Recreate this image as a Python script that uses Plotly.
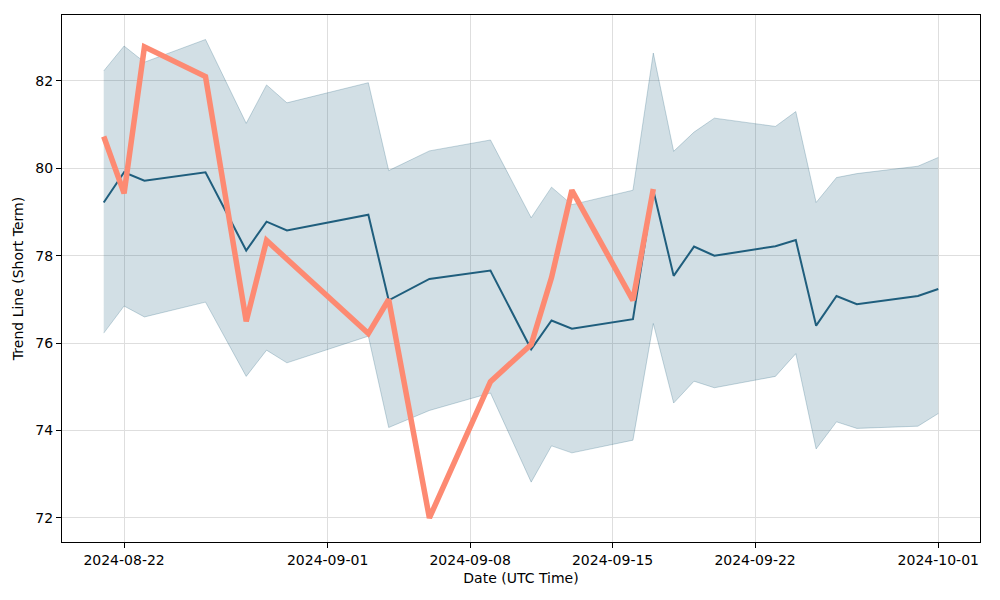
import plotly.graph_objects as go

# ---- data ----
trend_dates = ["2024-08-21", "2024-08-22", "2024-08-23", "2024-08-26", "2024-08-28",
               "2024-08-29", "2024-08-30", "2024-09-03", "2024-09-04", "2024-09-06",
               "2024-09-09", "2024-09-11", "2024-09-12", "2024-09-13", "2024-09-16",
               "2024-09-17", "2024-09-18", "2024-09-19", "2024-09-20", "2024-09-23",
               "2024-09-24", "2024-09-25", "2024-09-26", "2024-09-27", "2024-09-30",
               "2024-10-01"]
trend_values = [79.22, 79.91, 79.72, 79.91, 78.12, 78.78, 78.58, 78.94, 76.98, 77.47,
                77.66, 75.86, 76.52, 76.33, 76.55, 79.50, 77.54, 78.21, 78.00, 78.22,
                78.36, 76.40, 77.08, 76.89, 77.08, 77.24]
band_upper = [82.23, 82.80, 82.43, 82.95, 81.03, 81.91, 81.50, 81.96, 79.95, 80.40,
              80.65, 78.87, 79.57, 79.17, 79.50, 82.64, 80.39, 80.83, 81.15, 80.96,
              81.30, 79.22, 79.79, 79.88, 80.05, 80.25]
band_lower = [76.23, 76.85, 76.60, 76.94, 75.24, 75.84, 75.55, 76.16, 74.07, 74.46,
              74.86, 72.82, 73.65, 73.49, 73.78, 76.45, 74.63, 75.13, 74.98, 75.24,
              75.76, 73.58, 74.20, 74.05, 74.10, 74.39]

actual_dates = ["2024-08-21", "2024-08-22", "2024-08-23", "2024-08-26", "2024-08-28",
                "2024-08-29", "2024-09-03", "2024-09-04", "2024-09-06", "2024-09-09",
                "2024-09-11", "2024-09-12", "2024-09-13", "2024-09-16", "2024-09-17"]
actual_values = [80.73, 79.43, 82.78, 82.10, 76.50, 78.35, 76.22, 77.00, 72.00, 75.12,
                 75.97, 77.50, 79.50, 76.98, 79.53]

x_ticks = ["2024-08-22", "2024-09-01", "2024-09-08", "2024-09-15", "2024-09-22", "2024-10-01"]
y_ticks = [72, 74, 76, 78, 80, 82]

BLUE = "#1f5e7d"
FILL = "rgba(31,94,125,0.2)"
EDGE = "rgba(31,94,125,0.25)"
RED = "#fd8a72"

fig = go.Figure()
fig.add_trace(go.Scatter(x=trend_dates, y=band_upper, mode="lines",
                         line=dict(color=EDGE, width=1), showlegend=False, hoverinfo="skip"))
fig.add_trace(go.Scatter(x=trend_dates, y=band_lower, mode="lines", fill="tonexty",
                         fillcolor=FILL, line=dict(color=EDGE, width=1),
                         showlegend=False, hoverinfo="skip"))
fig.add_trace(go.Scatter(x=trend_dates, y=trend_values, mode="lines",
                         line=dict(color=BLUE, width=2), showlegend=False))
fig.add_trace(go.Scatter(x=actual_dates, y=actual_values, mode="lines",
                         line=dict(color=RED, width=5.5), showlegend=False))

font = dict(family="DejaVu Sans", size=14, color="black")
axis_common = dict(showline=True, linecolor="black", linewidth=1, mirror=True,
                   ticks="outside", ticklen=5, tickcolor="black", tickwidth=1,
                   showgrid=True, gridcolor="#dedede", gridwidth=1, zeroline=False,
                   tickfont=font, automargin=False)

fig.update_layout(
    width=1000, height=600,
    margin=dict(l=62, r=20, t=15, b=58),
    paper_bgcolor="white", plot_bgcolor="white",
    font=font,
    xaxis=dict(range=["2024-08-18 22:48", "2024-10-03 01:12"], type="date",
               tickvals=x_ticks, tickformat="%Y-%m-%d",
               title=dict(text="Date (UTC Time)", font=font, standoff=6), **axis_common),
    yaxis=dict(range=[71.45, 83.51], tickvals=y_ticks,
               title=dict(text="Trend Line (Short Term)", font=font, standoff=8), **axis_common),
)

fig.write_html("out.html", config={"displayModeBar": False},
               post_script="document.body.style.margin='0';document.body.style.overflow='hidden';")
